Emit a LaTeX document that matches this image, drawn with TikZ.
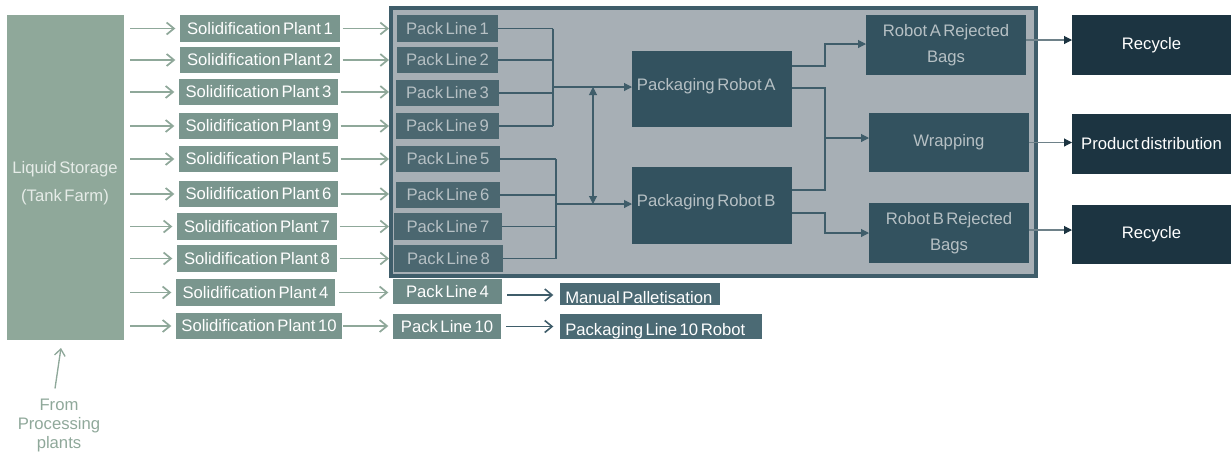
\documentclass[tikz,border=0pt]{standalone}
\usepackage{fontspec}
\setmainfont{Liberation Sans}[WordSpace=0.55]
\usetikzlibrary{arrows.meta}

\definecolor{liqC}{HTML}{8FA89A}
\definecolor{liqT}{HTML}{E6ECE8}
\definecolor{spC}{HTML}{7A968E}
\definecolor{arrC}{HTML}{8FA89A}
\definecolor{contC}{HTML}{A7AFB5}
\definecolor{contB}{HTML}{3F5D6A}
\definecolor{plC}{HTML}{4B6770}
\definecolor{plT}{HTML}{B6C0C4}
\definecolor{robC}{HTML}{33525F}
\definecolor{outC}{HTML}{1C3441}
\definecolor{plxC}{HTML}{6C8986}
\definecolor{dstC}{HTML}{4B6A74}
\definecolor{lnC}{HTML}{3F5D6A}
\definecolor{outLn}{HTML}{6E8189}

% box given by its pixel corners (x1,y1)-(x2,y2)
\newcommand\bx[7]{\node[#6, minimum width={(#4-#2)*0.75pt}, minimum height={(#5-#3)*0.75pt}] (#1) at ({(#2+#4)/2},{(#3+#5)/2}) {#7};}

\tikzset{
  box/.style={rectangle, inner sep=0pt, outer sep=0pt, align=center},
  liq/.style={box, fill=liqC},
  sp/.style={box, fill=spC, text=white},
  pl/.style={box, fill=plC, text=plT},
  rob/.style={box, fill=robC, text=plT},
  rej/.style={rob, font=\fontsize{12.5}{19.5}\selectfont},
  res/.style={box, fill=outC, text=white},
  plx/.style={box, fill=plxC, text=white},
  dst/.style={box, fill=dstC},
  garrow/.style={draw=arrC, line width=1.3pt, -{Straight Barb[length=5.5pt,width=9pt,line width=1.3pt]}},
  farrow/.style={draw=arrC, line width=1pt, -{Straight Barb[length=5pt,width=8pt,line width=1pt]}},
  darrowopen/.style={draw=lnC, line width=1.2pt, -{Straight Barb[length=5.5pt,width=9pt,line width=1.2pt]}},
  dline/.style={draw=lnC, line width=0.8pt},
  darr/.style={dline, -{Triangle[length=6pt,width=6pt]}},
  darrb/.style={dline, {Triangle[length=6pt,width=6pt]}-{Triangle[length=6pt,width=6pt]}},
  oarr/.style={draw=outLn, line width=0.8pt, -{Triangle[length=6pt,width=6pt,color=outC]}},
}

\begin{document}
\begin{tikzpicture}[x=0.75pt, y=-0.75pt, font=\fontsize{12.5}{14}\selectfont]
\path[use as bounding box] (0,0) rectangle (1231,455);

% storage and its feed
\bx{liq}{7}{15}{124}{340}{liq}{}
\node[text=liqT, align=center, font=\fontsize{12.5}{21}\selectfont] (liqtxt) at (65,183) {Liquid Storage\\(Tank Farm)};
\node[text=arrC, align=center, font=\fontsize{12.5}{14.25}\selectfont] (fromtxt) at (59,425) {From\\Processing\\plants};
\draw[farrow] ([xshift=-3pt,yshift=4pt]fromtxt.north) -- ([xshift=-3.4pt,yshift=-6pt]liq.south);

% solidification plants
\bx{sp1}{180}{15}{340}{42}{sp}{Solidification Plant 1}
\bx{sp2}{180}{47}{340}{73}{sp}{Solidification Plant 2}
\bx{sp3}{179}{79}{338}{105}{sp}{Solidification Plant 3}
\bx{sp9}{179}{113}{338}{139}{sp}{Solidification Plant 9}
\bx{sp5}{179}{146}{338}{172}{sp}{Solidification Plant 5}
\bx{sp6}{179}{181}{338}{207}{sp}{Solidification Plant 6}
\bx{sp7}{177}{213}{337}{240}{sp}{Solidification Plant 7}
\bx{sp8}{177}{245}{337}{272}{sp}{Solidification Plant 8}
\bx{sp4}{176}{279}{335}{306}{sp}{Solidification Plant 4}
\bx{sp10}{176}{313}{342}{339}{sp}{Solidification Plant 10}

% automated packing hall
\node[box, draw=contB, fill=contC, line width=2.6pt, minimum width={645*0.75pt}, minimum height={268*0.75pt}] (hall) at (713.5,142) {};

\bx{pl1}{397}{15}{498}{42}{pl}{Pack Line 1}
\bx{pl2}{397}{47}{498}{73}{pl}{Pack Line 2}
\bx{pl3}{396}{80}{499}{106}{pl}{Pack Line 3}
\bx{pl9}{396}{113}{499}{139}{pl}{Pack Line 9}
\bx{pl5}{396}{146}{500}{172}{pl}{Pack Line 5}
\bx{pl6}{396}{182}{500}{208}{pl}{Pack Line 6}
\bx{pl7}{394}{213}{502}{240}{pl}{Pack Line 7}
\bx{pl8}{394}{245}{503}{272}{pl}{Pack Line 8}

\bx{robA}{632}{51}{792}{127}{rob}{}
\bx{robB}{632}{167}{792}{244}{rob}{}
\node[anchor=west, text=plT, inner sep=0pt] (robAtxt) at ([xshift=3.5pt,yshift=2.25pt]robA.west) {Packaging Robot A};
\node[anchor=west, text=plT, inner sep=0pt] (robBtxt) at ([xshift=3.5pt,yshift=2.6pt]robB.west) {Packaging Robot B};

\bx{rejA}{866}{15}{1026}{75}{rej}{Robot A Rejected\\Bags}
\bx{wrap}{869}{113}{1029}{172}{rob}{Wrapping}
\bx{rejB}{869}{203}{1029}{263}{rej}{Robot B Rejected\\Bags}

% final destinations
\bx{rec1}{1072}{15}{1231}{75}{res}{Recycle}
\bx{prod}{1072}{114}{1231}{174}{res}{Product distribution}
\bx{rec2}{1072}{205}{1231}{264}{res}{Recycle}

% manual lines
\bx{pl4}{393}{279}{502}{304}{plx}{Pack Line 4}
\bx{pl10}{393}{314}{501}{339}{plx}{Pack Line 10}
\bx{man}{560}{283}{720}{305}{dst}{}
\bx{rob10}{560}{314}{762}{339}{dst}{}
\begin{scope}
  \clip (man.south west) rectangle (man.north east);
  \node[anchor=base west, text=white, inner sep=0pt] (mantxt) at (565,303.5) {Manual Palletisation};
\end{scope}
\begin{scope}
  \clip (rob10.south west) rectangle (rob10.north east);
  \node[anchor=base west, text=white, inner sep=0pt] (rob10txt) at (565,335.5) {Packaging Line 10 Robot};
\end{scope}

% storage -> solidification plants
\foreach \s in {sp1,sp2,sp3,sp9,sp5,sp6,sp7,sp8,sp4,sp10}
  \draw[garrow, shorten <=4.5pt, shorten >=3.5pt] (liq.east |- \s.west) -- (\s.west);

% solidification plants -> pack lines
\foreach \s in {sp1,sp2,sp3,sp9,sp5,sp6,sp7,sp8}
  \draw[garrow, shorten <=2pt, shorten >=1.5pt] (\s.east) -- (\s.east -| hall.west);
\draw[garrow, shorten <=3pt, shorten >=3.5pt] (sp4.east) -- (sp4.east -| pl4.west);
\draw[garrow, shorten <=1pt, shorten >=3.5pt] (sp10.east) -- (sp10.east -| pl10.west);

% pack lines -> packaging robots
\coordinate (busA) at (553,87);
\coordinate (busB) at (556,204);
\foreach \p in {pl1,pl2,pl3,pl9}
  \draw[dline] (\p.east) -- (\p.east -| busA);
\foreach \p in {pl5,pl6,pl7,pl8}
  \draw[dline] (\p.east) -- (\p.east -| busB);
\draw[dline] (busA |- pl1.east) -- (busA |- pl9.east);
\draw[dline] (busB |- pl5.east) -- (busB |- pl8.east);
\draw[darr] (busA) -- (busA -| robA.west);
\draw[darr] (busB) -- (busB -| robB.west);
\coordinate (swA) at (593,87);
\coordinate (swB) at (593,204);
\draw[darrb] (swA) -- (swB);

% robots -> rejects and wrapping
\coordinate (vx) at (825,0);
\coordinate (ra1) at (792,66);
\coordinate (ra2) at (792,88);
\coordinate (rb1) at (792,190);
\coordinate (rb2) at (792,213);
\coordinate (jw) at (825,138);
\draw[darr] (ra1) -| (vx |- 0,44) -- (rejA.west |- 0,44);
\draw[dline] (ra2) -| (vx |- rb1) -- (rb1);
\draw[darr] (jw) -- (jw -| wrap.west);
\draw[darr] (rb2) -| (vx |- rejB.west) -- (rejB.west);

% to final destinations
\draw[oarr] ([yshift=3.75pt]rejA.east) -- ([yshift=3.75pt]rejA.east -| rec1.west);
\draw[oarr] (wrap.east) -- (wrap.east -| prod.west);
\draw[oarr] ([yshift=2.25pt]rejB.east) -- ([yshift=2.25pt]rejB.east -| rec2.west);

% manual lines
\draw[darrowopen, shorten <=4pt, shorten >=5pt] (pl4.east |- 0,295) -- (man.west |- 0,295);
\draw[darrowopen, shorten <=4pt, shorten >=5pt] (pl10.east) -- (pl10.east -| rob10.west);
\end{tikzpicture}
\end{document}
